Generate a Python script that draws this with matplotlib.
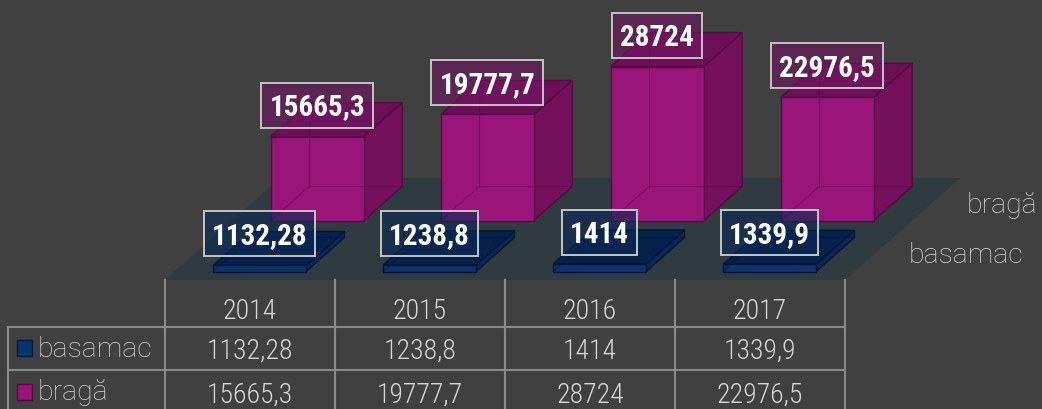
import matplotlib.pyplot as plt
from matplotlib.patches import Polygon, Rectangle
from matplotlib import font_manager

# chart data
years = ['2014', '2015', '2016', '2017']
series_names = ['basamac', 'bragă']
basamac = [1132.28, 1238.8, 1414, 1339.9]
braga = [15665.3, 19777.7, 28724, 22976.5]


def fmt(v):
    # comma as decimal separator
    return f"{v:g}".replace('.', ',')


def pick(*names):
    have = {f.name for f in font_manager.fontManager.ttflist}
    for n in names:
        if n in have:
            return n
    return 'DejaVu Sans'


# narrow-ish font for numbers, with sizes tuned to its digit width
NUMFONT = pick('Liberation Sans Narrow', 'Roboto Condensed', 'Roboto', 'Lato')
SIZES = {'Liberation Sans Narrow': (21.5, 22), 'Roboto Condensed': (20, 21),
         'Roboto': (18, 18.5), 'Lato': (18, 18.5), 'DejaVu Sans': (15.5, 14.5)}
NUM_SIZE, LBL_SIZE = SIZES[NUMFONT]
TXT = pick('Roboto', 'DejaVu Sans')
TXT_SIZE = 20.5 if TXT == 'Roboto' else 18.5

BG = '#404040'
FLOOR = '#2f3a41'
GRID = '#8a8a8a'
TEXT = '#d6d6d6'

# 3D geometry (pixels)
X0 = 165
CAT_W = 170
FLOOR_Y = 280
SLANT = 1.13
ROW_D = 51
GAP_D = 8.5
BAR_D = 34
BAR_W = 93
INSET = (CAT_W - BAR_W) / 2
SCALE = 0.00536

fig = plt.figure(figsize=(10.42, 4.09), dpi=100)
fig.patch.set_facecolor(BG)
ax = fig.add_axes([0, 0, 1, 1])
ax.set_xlim(0, 1042)
ax.set_ylim(409, 0)
ax.axis('off')


def proj(x, t, h):
    return (x + SLANT * t, FLOOR_Y - t - h)


# floor
n = len(years)
floor = [proj(X0, 0, 0), proj(X0 + n * CAT_W, 0, 0),
         proj(X0 + n * CAT_W, 2 * ROW_D, 0), proj(X0, 2 * ROW_D, 0)]
ax.add_patch(Polygon(floor, closed=True, facecolor=FLOOR, edgecolor='none', zorder=1))

styles = {
    0: dict(front='#0d3270', side='#08275a', top='#06224c', edge='#031630',
            box='#0a2a55'),
    1: dict(front='#99157a', side='#75105d', top='#6d0f57', edge='#560a45',
            box='#701660'),
}

labels = []


def draw_bar(i, row, value):
    st = styles[row]
    xl = X0 + i * CAT_W + INSET
    xr = xl + BAR_W
    t0 = row * ROW_D + GAP_D
    t1 = t0 + BAR_D
    h = value * SCALE
    z = 3 if row == 0 else 2
    front = [proj(xl, t0, 0), proj(xr, t0, 0), proj(xr, t0, h), proj(xl, t0, h)]
    side = [proj(xr, t0, 0), proj(xr, t1, 0), proj(xr, t1, h), proj(xr, t0, h)]
    top = [proj(xl, t0, h), proj(xr, t0, h), proj(xr, t1, h), proj(xl, t1, h)]
    for poly, col in ((side, st['side']), (top, st['top']), (front, st['front'])):
        ax.add_patch(Polygon(poly, closed=True, facecolor=col, edgecolor=st['edge'],
                             lw=1.0, zorder=z))
    # hidden edges seen through the translucent bar
    hx = [proj(xl, t0, 0), proj(xl, t1, 0), proj(xr, t1, 0)]
    ax.plot([p[0] for p in hx], [p[1] for p in hx], color=st['edge'], lw=0.8,
            alpha=0.5, zorder=z)
    vx = [proj(xl, t1, 0), proj(xl, t1, h)]
    ax.plot([p[0] for p in vx], [p[1] for p in vx], color=st['edge'], lw=0.8,
            alpha=0.5, zorder=z)
    cx = (xl + xr) / 2 + SLANT * t0
    cy = FLOOR_Y - t0 - h - 31.5
    cap = 0.72 * LBL_SIZE * 100 / 72
    t = ax.text(cx, cy + cap / 2, fmt(value), ha='center', va='baseline',
                color='white', fontsize=LBL_SIZE, fontweight='bold',
                family=NUMFONT, zorder=6)
    labels.append((t, cx, cy, st['box']))


for i, v in enumerate(braga):
    draw_bar(i, 1, v)
for i, v in enumerate(basamac):
    draw_bar(i, 0, v)

# label boxes sized around the rendered text
fig.canvas.draw()
renderer = fig.canvas.get_renderer()
for t, cx, cy, boxcol in labels:
    w = t.get_window_extent(renderer).width
    bw, bh = w + 16, 45
    ax.add_patch(Rectangle((cx - bw / 2, cy - bh / 2), bw, bh, facecolor=boxcol,
                           alpha=0.6, edgecolor='none', zorder=5))
    ax.add_patch(Rectangle((cx - bw / 2, cy - bh / 2), bw, bh, facecolor='none',
                           edgecolor='#c4c4c4', lw=1.4, zorder=5))

# series names on the depth axis
ax.text(1037, 213, series_names[1], ha='right', va='baseline', color=TEXT,
        fontsize=TXT_SIZE, family=TXT, fontweight='light')
ax.text(1023, 263, series_names[0], ha='right', va='baseline', color=TEXT,
        fontsize=TXT_SIZE, family=TXT, fontweight='light')

# data table
TL = 8
TR = X0 + n * CAT_W
ROW_Y = [327, 370]
for k in range(n + 1):
    ax.plot([X0 + k * CAT_W] * 2, [FLOOR_Y, 412], color=GRID, lw=1.5, zorder=1)
ax.plot([TL, TL], [ROW_Y[0], 412], color=GRID, lw=1.5)
for y in ROW_Y:
    ax.plot([TL, TR], [y, y], color=GRID, lw=1.5)

for k, yr in enumerate(years):
    cx = X0 + (k + 0.5) * CAT_W
    for y, s in ((319, yr), (359, fmt(basamac[k])), (403, fmt(braga[k]))):
        ax.text(cx, y, s, ha='center', va='baseline', color=TEXT,
                fontsize=NUM_SIZE, family=NUMFONT, fontweight='light')

keys = [('#0d3270', '#061a3a'), ('#99157a', '#560a45')]
for r, (name, (fc, ec)) in enumerate(zip(series_names, keys)):
    y_top = 340 + r * 43.5
    ax.add_patch(Rectangle((17, y_top), 15, 16, facecolor=fc, edgecolor=ec, lw=1))
    ax.text(38, y_top + 17, name, ha='left', va='baseline', color=TEXT,
            fontsize=TXT_SIZE, family=TXT, fontweight='light')

plt.savefig('out.png', dpi=100, facecolor=BG)
